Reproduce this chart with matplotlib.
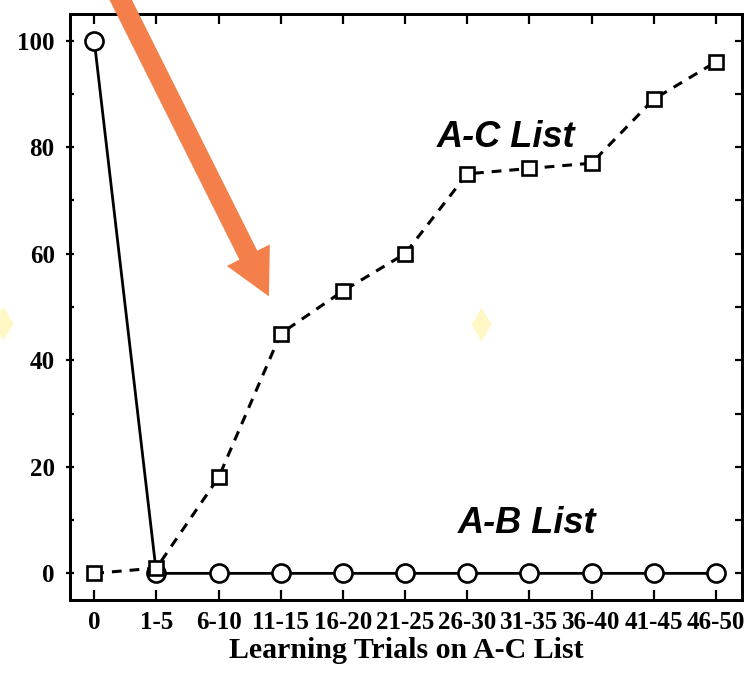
import numpy as np
import matplotlib.pyplot as plt
from matplotlib.patches import FancyArrow
from matplotlib.transforms import IdentityTransform
from matplotlib.ticker import MultipleLocator

# dados
categorias = ['0', '1-5', '6-10', '11-15', '16-20', '21-25', '26-30',
              '31-35', '36-40', '41-45', '46-50']
lista_ab = [100, 0, 0, 0, 0, 0, 0, 0, 0, 0, 0]
lista_ac = [0, 1, 18, 45, 53, 60, 75, 76, 77, 89, 96]

# manchas amarelas do scan (x, y em dados)
manchas_x = [-1.46, 6.22]
manchas_y = [47.0, 46.8]

serif = 'Liberation Serif'
sans = 'Liberation Sans'

fig = plt.figure(figsize=(7.51, 6.76), dpi=100)
ax = fig.add_axes([70 / 751, 76 / 676, 672 / 751, 586 / 676])

x = np.arange(len(categorias))

ax.plot(x, lista_ab, color='black', lw=2.0, marker='o', ms=13,
        mfc='white', mec='black', mew=1.9, zorder=3)
ax.plot(x, lista_ac, color='black', lw=2.2, ls=(0, (3.2, 2.6)), marker='s',
        ms=10.5, mfc='white', mec='black', mew=1.9, zorder=4)

ax.plot(manchas_x, manchas_y, ls='none', marker='d', ms=17,
        color='#FFF8C4', mec='none', clip_on=False, zorder=0)

ax.set_xlim(-0.39, 10.42)
ax.set_ylim(-5, 105)

ax.set_xticks(x)
ax.set_xticklabels(categorias, fontfamily=serif, fontweight='bold', fontsize=18)
ax.set_yticks(np.arange(0, 101, 20))
ax.set_yticklabels([str(v) for v in range(0, 101, 20)], fontfamily=serif,
                   fontweight='bold', fontsize=18)
ax.yaxis.set_minor_locator(MultipleLocator(10))

ax.tick_params(axis='x', which='major', direction='in', length=7, width=1.6,
               top=True, pad=8)
ax.tick_params(axis='y', which='major', direction='inout', length=6, width=1.6,
               pad=8)
ax.tick_params(axis='y', which='minor', direction='in', length=3, width=1.6)

# ticks do lado direito
ax_r = ax.twinx()
ax_r.set_ylim(ax.get_ylim())
ax_r.set_yticks(np.arange(0, 101, 10))
ax_r.tick_params(axis='y', direction='in', length=5, width=1.6, labelright=False)
for a in (ax, ax_r):
    for s in a.spines.values():
        s.set_linewidth(2.0)

ax.set_xlabel('Learning Trials on A-C List', fontfamily=serif,
              fontweight='bold', fontsize=21.5, labelpad=2)

ax.text(5.51, 80, 'A-C List', fontfamily=sans, fontweight='bold',
        fontstyle='italic', fontsize=26, ha='left', va='baseline')
ax.text(5.84, 7.5, 'A-B List', fontfamily=sans, fontweight='bold',
        fontstyle='italic', fontsize=26, ha='left', va='baseline')

# seta laranja (em pixels, com a ponta presa aos dados)
ponta = ax.transData.transform((2.81, 52.0))
comprimento = 340
ang = np.arctan2(-1.0, 0.5)
dx = comprimento * np.cos(ang)
dy = comprimento * np.sin(ang)
seta = FancyArrow(ponta[0] - dx, ponta[1] - dy, dx, dy, width=20,
                  head_width=48, head_length=46, length_includes_head=True,
                  color='#F47F4A', ec='none', transform=IdentityTransform(),
                  zorder=10)
fig.patches.append(seta)
seta.set_figure(fig)

fig.savefig('out.png', dpi=100)
